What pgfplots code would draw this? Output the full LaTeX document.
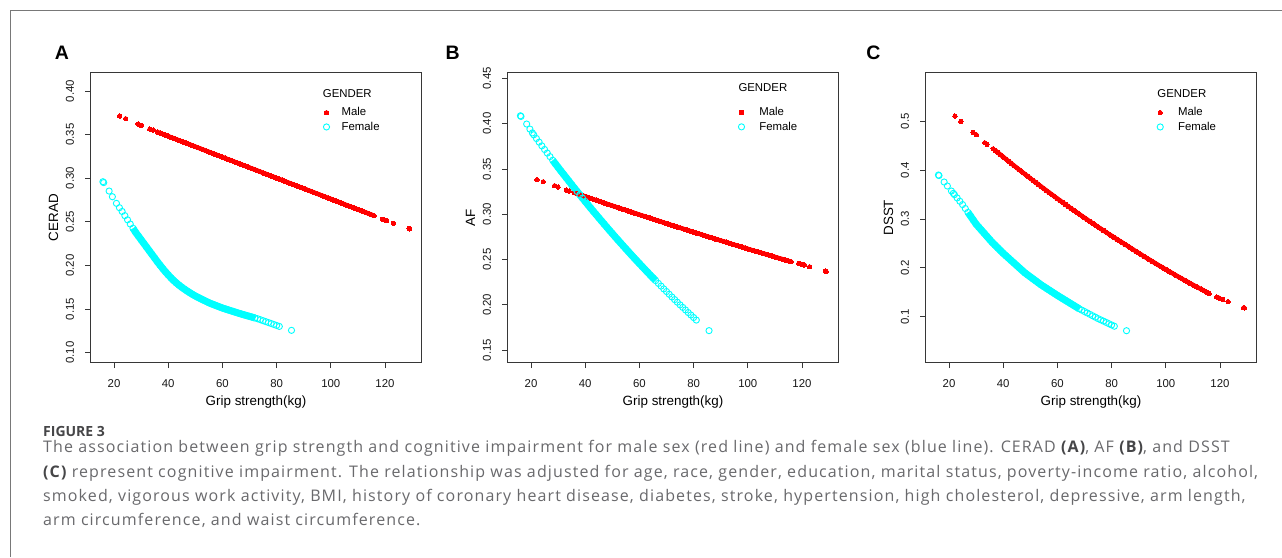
\documentclass[border=0pt]{standalone}
\usepackage{pgfplots}
\pgfplotsset{compat=1.18}
\usepackage{pgfplotstable}
\usepackage{fontspec}
\setmainfont{Liberation Sans}
\newfontfamily\capfont[LetterSpace=7]{Open Sans}
\newfontfamily\capfonthead{Open Sans}
\definecolor{axgray}{RGB}{55,55,55}
\definecolor{mred}{RGB}{255,0,0}
\definecolor{fcyan}{RGB}{0,255,255}
\definecolor{capgray}{RGB}{105,105,108}
\definecolor{capdark}{RGB}{70,70,72}
\definecolor{framegray}{RGB}{120,120,120}

\pgfplotstableread{
x y
22.1 0.3713
24.3 0.3683
28.9 0.3622
30.1 0.3606
33.2 0.3564
34.4 0.3553
36 0.3530
37 0.3518
38 0.3506
39 0.3494
40 0.3482
41 0.3470
42 0.3458
43 0.3446
44 0.3434
45 0.3422
46 0.3410
47 0.3398
48 0.3386
49 0.3374
50 0.3362
51 0.3350
52 0.3338
53 0.3326
54 0.3314
55 0.3302
56 0.3290
57 0.3278
58 0.3266
59 0.3254
60 0.3242
61 0.3230
62 0.3218
63 0.3206
64 0.3194
65 0.3182
66 0.3170
67 0.3158
68 0.3146
69 0.3134
70 0.3122
71 0.3110
72 0.3098
73 0.3086
74 0.3074
75 0.3062
76 0.3050
77 0.3038
78 0.3026
79 0.3014
80 0.3002
81 0.2990
82 0.2978
83 0.2966
84 0.2954
85 0.2942
86 0.2930
87 0.2918
88 0.2906
89 0.2894
90 0.2882
91 0.2870
92 0.2858
93 0.2846
94 0.2834
95 0.2822
96 0.2810
97 0.2798
98 0.2786
99 0.2774
100 0.2762
101 0.2750
102 0.2738
103 0.2726
104 0.2714
105 0.2702
106 0.2690
107 0.2678
108 0.2666
109 0.2654
110 0.2642
111 0.2630
112 0.2618
113 0.2606
114 0.2594
115 0.2582
116 0.2570
119.1 0.2529
119.6 0.2524
120.6 0.2514
123.1 0.2483
128.9 0.2423
129.1 0.2420
}\maleA

\pgfplotstableread{
x y
15.9 0.2960
16.2 0.2950
18.2 0.2853
19.4 0.2788
20.9 0.2712
22 0.2662
23 0.2619
24 0.2571
25 0.2523
26 0.2475
27 0.2427
28 0.2379
29 0.2337
30 0.2295
31 0.2253
32 0.2211
33 0.2169
34 0.2127
35 0.2085
36 0.2043
37 0.2003
38 0.1964
39 0.1927
40 0.1892
41 0.1859
42 0.1828
43 0.1800
44 0.1774
45 0.1750
46 0.1728
47 0.1707
48 0.1687
49 0.1668
50 0.1650
51 0.1634
52 0.1618
53 0.1603
54 0.1588
55 0.1573
56 0.1560
57 0.1548
58 0.1536
59 0.1524
60 0.1512
61 0.1502
62 0.1492
63 0.1482
64 0.1472
65 0.1462
66 0.1452
67 0.1443
68 0.1434
69 0.1425
70 0.1416
71 0.1407
72 0.1398
73 0.1389
74 0.1378
75 0.1367
76 0.1356
77 0.1345
78 0.1334
79 0.1323
80 0.1312
81 0.1301
85.5 0.1256
}\femA

\pgfplotstableread{
x y
22.2 0.3381
24.5 0.3359
28.7 0.3315
30.0 0.3300
33.0 0.3267
34.1 0.3256
36 0.3237
37 0.3227
38 0.3216
39 0.3206
40 0.3196
41 0.3186
42 0.3175
43 0.3165
44 0.3155
45 0.3145
46 0.3135
47 0.3124
48 0.3114
49 0.3104
50 0.3094
51 0.3084
52 0.3074
53 0.3064
54 0.3054
55 0.3045
56 0.3035
57 0.3025
58 0.3015
59 0.3005
60 0.2995
61 0.2985
62 0.2976
63 0.2966
64 0.2956
65 0.2946
66 0.2936
67 0.2927
68 0.2917
69 0.2907
70 0.2898
71 0.2888
72 0.2878
73 0.2869
74 0.2859
75 0.2850
76 0.2840
77 0.2831
78 0.2821
79 0.2812
80 0.2802
81 0.2793
82 0.2784
83 0.2774
84 0.2765
85 0.2755
86 0.2746
87 0.2737
88 0.2727
89 0.2718
90 0.2709
91 0.2700
92 0.2691
93 0.2681
94 0.2672
95 0.2663
96 0.2654
97 0.2645
98 0.2636
99 0.2627
100 0.2617
101 0.2608
102 0.2599
103 0.2590
104 0.2582
105 0.2573
106 0.2564
107 0.2555
108 0.2546
109 0.2537
110 0.2528
111 0.2519
112 0.2510
113 0.2502
114 0.2493
115 0.2484
116 0.2475
118.8 0.2457
119.6 0.2450
120.1 0.2446
120.9 0.2439
122.8 0.2420
128.6 0.2372
128.9 0.2370
}\maleB

\pgfplotstableread{
x y
16.1 0.4087
16.3 0.4080
18.4 0.3996
19.6 0.3940
20.5 0.3898
21 0.3877
22 0.3836
23 0.3796
24 0.3755
25 0.3715
26 0.3675
27 0.3636
28 0.3596
29 0.3557
30 0.3518
31 0.3479
32 0.3441
33 0.3403
34 0.3365
35 0.3327
36 0.3289
37 0.3252
38 0.3215
39 0.3178
40 0.3141
41 0.3105
42 0.3068
43 0.3032
44 0.2997
45 0.2961
46 0.2926
47 0.2891
48 0.2856
49 0.2821
50 0.2787
51 0.2752
52 0.2718
53 0.2685
54 0.2651
55 0.2618
56 0.2585
57 0.2552
58 0.2519
59 0.2487
60 0.2455
61 0.2423
62 0.2391
63 0.2360
64 0.2328
65 0.2297
66 0.2267
67 0.2236
68 0.2206
69 0.2175
70 0.2146
71 0.2116
72 0.2086
73 0.2057
74 0.2028
75 0.1999
76 0.1971
77 0.1943
78 0.1914
79 0.1887
80 0.1859
81 0.1831
85.7 0.1714
}\femB

\pgfplotstableread{
x y
22.2 0.5109
24.4 0.5000
28.9 0.4775
30.1 0.4727
33.2 0.4563
34.0 0.4529
36.3 0.4440
37 0.4408
38 0.4362
39 0.4317
40 0.4272
41 0.4227
42 0.4183
43 0.4138
44 0.4094
45 0.4050
46 0.4006
47 0.3963
48 0.3920
49 0.3877
50 0.3834
51 0.3791
52 0.3749
53 0.3707
54 0.3665
55 0.3623
56 0.3582
57 0.3541
58 0.3500
59 0.3459
60 0.3418
61 0.3378
62 0.3338
63 0.3298
64 0.3259
65 0.3219
66 0.3180
67 0.3141
68 0.3103
69 0.3064
70 0.3026
71 0.2988
72 0.2950
73 0.2913
74 0.2875
75 0.2838
76 0.2802
77 0.2765
78 0.2729
79 0.2692
80 0.2656
81 0.2621
82 0.2585
83 0.2550
84 0.2515
85 0.2480
86 0.2445
87 0.2409
88 0.2373
89 0.2339
90 0.2303
91 0.2269
92 0.2234
93 0.2200
94 0.2166
95 0.2132
96 0.2099
97 0.2065
98 0.2032
99 0.2000
100 0.1966
101 0.1934
102 0.1902
103 0.1871
104 0.1838
105 0.1807
106 0.1776
107 0.1744
108 0.1714
109 0.1684
110 0.1653
111 0.1623
112 0.1593
113 0.1564
114 0.1534
115 0.1505
116 0.1476
118.8 0.1403
119.5 0.1390
120.0 0.1369
121.0 0.1355
123.0 0.1307
128.7 0.1184
129.0 0.1180
}\maleC

\pgfplotstableread{
x y
16.1 0.3901
16.3 0.3890
18.2 0.3758
19.4 0.3676
20.9 0.3573
21.6 0.3526
22 0.3500
23 0.3432
24 0.3364
25 0.3296
26 0.3216
27 0.3136
28 0.3056
29 0.2976
30 0.2896
31 0.2833
32 0.2770
33 0.2707
34 0.2644
35 0.2581
36 0.2518
37 0.2463
38 0.2408
39 0.2353
40 0.2298
41 0.2248
42 0.2198
43 0.2148
44 0.2098
45 0.2048
46 0.1998
47 0.1948
48 0.1898
49 0.1857
50 0.1816
51 0.1775
52 0.1734
53 0.1693
54 0.1652
55 0.1616
56 0.1580
57 0.1544
58 0.1508
59 0.1472
60 0.1436
61 0.1402
62 0.1368
63 0.1334
64 0.1300
65 0.1266
66 0.1232
67 0.1198
68 0.1164
69 0.1135
70 0.1106
71 0.1077
72 0.1048
73 0.1019
74 0.0990
75 0.0961
76 0.0935
77 0.0909
78 0.0883
79 0.0857
80 0.0831
81 0.0805
85.5 0.0713
}\femC

\newcommand{\tickfont}{\fontsize{11.4pt}{13pt}\selectfont}
\newcommand{\labfont}{\fontsize{13.4pt}{15pt}\selectfont}

\pgfplotsset{
  panel/.style={
    scale only axis, width=330.6pt, height=290pt, anchor=south west,
    xmin=11.4, xmax=133.4,
    xtick={20,40,60,80,100,120},
    axis line style={axgray, line width=0.8pt},
    every tick/.style={axgray, line width=0.8pt},
    tick align=outside, major tick length=5.5pt,
    xtick pos=bottom, ytick pos=left,
    /pgf/number format/assume math mode=true,
    tick label style={font=\tickfont, text=black!90, inner sep=0pt},
    xticklabel shift=11pt,
    yticklabel shift=11pt,
    yticklabel style={rotate=90, anchor=south},
    xlabel={Grip strength(kg)},
    xlabel style={at={(axis description cs:0.5,-0.1483)}, anchor=base, font=\labfont, inner sep=0pt},
    ylabel style={at={(axis description cs:-0.0986,0.5)}, anchor=base, font=\labfont, inner sep=0pt},
    legend style={draw=none, fill=none, inner sep=0pt, font=\tickfont,
      row sep=4.6pt, nodes={inner sep=0pt}},
    legend cell align=left,
    legend image code/.code={\draw[#1] plot coordinates {(0pt,0pt)};},
  },
  maleplot/.style={only marks, mark=*, mark size=2.2pt, mred, mark options={draw=mred, fill=mred, line width=0pt}},
  maleband/.style={mred, line width=4.4pt, no marks, forget plot},
  femplot/.style={only marks, mark=o, mark size=3.1pt, fcyan, mark options={draw=fcyan, line width=0.9pt}},
  femband/.style={fcyan, line width=7pt, no marks, forget plot},
}

\begin{document}
\begin{tikzpicture}
\path[use as bounding box] (0pt,0pt) rectangle (1282pt,557pt);
\fill[white] (0pt,0pt) rectangle (1282pt,557pt);
\draw[framegray, line width=0.9pt] (10pt,0pt) -- (10pt,547pt) -- (1282pt,547pt);

% Panel A
\node[font=\bfseries\fontsize{19.5pt}{20pt}\selectfont] at (62pt,504pt) {A};
\begin{axis}[panel, at={(90.7pt,194.3pt)},
  ymin=0.0885, ymax=0.421,
  ytick={0.10,0.15,0.20,0.25,0.30,0.35,0.40},
  yticklabel style={/pgf/number format/.cd, fixed, fixed zerofill, precision=2},
  ylabel={CERAD},
  legend style={at={(axis description cs:0.7033,0.8799)}, anchor=north west,
    /tikz/every odd column/.append style={column sep=12pt}},
]
\addplot[maleband, restrict x to domain=36:116] table {\maleA};
\addplot[maleplot] table {\maleA};
\addlegendentry{Male}
\addplot[femband, restrict x to domain=27:72] table {\femA};
\addplot[femplot] table {\femA};
\addlegendentry{Female}
\node[anchor=west, font=\tickfont, inner sep=0pt] at (axis description cs:0.7017,0.9264) {GENDER};
\end{axis}

% Panel B
\node[font=\bfseries\fontsize{19.5pt}{20pt}\selectfont] at (452.7pt,504pt) {B};
\begin{axis}[panel, at={(507.7pt,194.3pt)},
  ymin=0.136, ymax=0.4563,
  ytick={0.15,0.20,0.25,0.30,0.35,0.40,0.45},
  yticklabel style={/pgf/number format/.cd, fixed, fixed zerofill, precision=2},
  ylabel={AF},
  legend style={at={(axis description cs:0.6972,0.8803)}, anchor=north west,
    /tikz/every odd column/.append style={column sep=14.7pt}},
]
\addplot[maleband, restrict x to domain=36:116] table {\maleB};
\addplot[maleplot] table {\maleB};
\addlegendentry{Male}
\addplot[femband, restrict x to domain=28:66] table {\femB};
\addplot[femplot] table {\femB};
\addlegendentry{Female}
\node[anchor=west, font=\tickfont, inner sep=0pt] at (axis description cs:0.6975,0.9482) {GENDER};
\end{axis}

% Panel C
\node[font=\bfseries\fontsize{19.5pt}{20pt}\selectfont] at (873.3pt,504pt) {C};
\begin{axis}[panel, at={(925.7pt,194.3pt)},
  ymin=0.0058, ymax=0.5997,
  ytick={0.1,0.2,0.3,0.4,0.5},
  yticklabel style={/pgf/number format/.cd, fixed, fixed zerofill, precision=1},
  ylabel={DSST},
  legend style={at={(axis description cs:0.6994,0.8799)}, anchor=north west,
    /tikz/every odd column/.append style={column sep=14.7pt}},
]
\addplot[maleband, restrict x to domain=37:116] table {\maleC};
\addplot[maleplot] table {\maleC};
\addlegendentry{Male}
\addplot[femband, restrict x to domain=27:68] table {\femC};
\addplot[femplot] table {\femC};
\addlegendentry{Female}
\node[anchor=west, font=\tickfont, inner sep=0pt] at (axis description cs:0.7005,0.9275) {GENDER};
\end{axis}

% Caption
\begin{scope}[every node/.style={anchor=base west, inner sep=0pt}]
\node[font=\capfonthead\bfseries\fontsize{14pt}{15pt}\selectfont, text=capdark] at (43pt,121pt) {FIGURE 3};
\node[font=\capfont\fontsize{16pt}{18pt}\selectfont, text=capgray] at (43pt,104pt) {The association between grip strength and cognitive impairment for male sex (red line) and female sex (blue line). CERAD {\color{capdark}\bfseries(A)}, AF {\color{capdark}\bfseries(B)}, and DSST};
\node[font=\capfont\fontsize{16pt}{18pt}\selectfont, text=capgray] at (43pt,79.5pt) {{\color{capdark}\bfseries(C)} represent cognitive impairment. The relationship was adjusted for age, race, gender, education, marital status, poverty-income ratio, alcohol,};
\node[font=\capfont\fontsize{16pt}{18pt}\selectfont, text=capgray] at (43pt,55.5pt) {smoked, vigorous work activity, BMI, history of coronary heart disease, diabetes, stroke, hypertension, high cholesterol, depressive, arm length,};
\node[font=\capfont\fontsize{16pt}{18pt}\selectfont, text=capgray] at (43pt,31.5pt) {arm circumference, and waist circumference.};
\end{scope}
\end{tikzpicture}
\end{document}
